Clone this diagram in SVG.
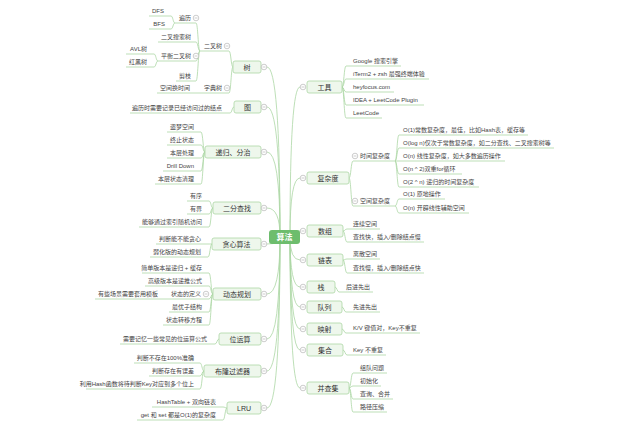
<svg xmlns="http://www.w3.org/2000/svg" width="626" height="439" viewBox="0 0 626 439">
<style>
.l{fill:none;stroke:#acd7a5;stroke-width:0.8}
.u{stroke:#acd7a5;stroke-width:0.8}
.b{fill:#eef7ec;stroke:#acd7a5;stroke-width:0.8}
text{font-family:'Liberation Sans','Noto Sans CJK SC',sans-serif;fill:#444}
.s{font-size:6px}
.e{text-anchor:end}
.m{font-size:7px;text-anchor:middle;fill:#333}
.r{font-size:8px;text-anchor:middle;fill:#fff;font-weight:bold}
</style>
<defs>
<g id="cb"><circle r="2.8" fill="#fff" stroke="#9a9a9a" stroke-width="0.5"/><path d="M-1.5 0H1.5" stroke="#9a9a9a" stroke-width="0.5"/></g>
</defs>
<rect width="626" height="439" fill="#fff"/>
<g id="connectors">
<path class="l" d="M280 237Q280 67 267 67M280 237Q280 107 267 107M280 237Q280 152 267 152M280 237Q280 208 267 208M280 237Q280 244 267 244M280 237Q280 294 267 294M280 237Q280 339 267 339M280 237Q280 371 267 371M280 237Q280 408 267 408"/>
<path class="l" d="M290 237Q290 87 300 87M290 237Q290 178 300 178M290 237Q290 231 300 231M290 237Q290 260 300 260M290 237Q290 287 300 287M290 237Q290 307 300 307M290 237Q290 329 300 329M290 237Q290 350 300 350M290 237Q290 388 300 388"/>
<path class="l" d="M233 67C231 67 231 51 229 51M233 67C231 67 231 93 229 93"/>
<path class="l" d="M200 51C198 51 198 23 196 23M200 51C198 51 198 42 196 42M200 51C198 51 198 61 196 61M200 51C198 51 198 81 196 81"/>
<path class="l" d="M175 23C173 23 173 16 171 16M175 23C173 23 173 29 171 29"/>
<path class="l" d="M158 61C156 61 156 54 154 54M158 61C156 61 156 67 154 67"/>
<path class="l" d="M200 93H196"/>
<path class="l" d="M234 107C232 107 232 113 230 113"/>
<path class="l" d="M205 152C203 152 203 132 201 132M205 152C203 152 203 145 201 145M205 152C203 152 203 158 201 158M205 152C203 152 203 171 201 171M205 152C203 152 203 184 201 184"/>
<path class="l" d="M213 208C211 208 211 201 209 201M213 208C211 208 211 214 209 214M213 208C211 208 211 227 209 227"/>
<path class="l" d="M212 244C210 244 210 244 208 244M212 244C210 244 210 257 208 257"/>
<path class="l" d="M213 294C211 294 211 273 209 273M213 294C211 294 211 286 209 286M213 294C211 294 211 299 209 299M213 294C211 294 211 312 209 312M213 294C211 294 211 325 209 325"/>
<path class="l" d="M169 299H165"/>
<path class="l" d="M219 339C217 339 217 344 215 344"/>
<path class="l" d="M204 371C202 371 202 363 200 363M204 371C202 371 202 376 200 376M204 371C202 371 202 389 200 389"/>
<path class="l" d="M227 408C225 408 225 407 223 407M227 408C225 408 225 420 223 420"/>
<path class="l" d="M342 87C344 87 344 66 346 66M342 87C344 87 344 79 346 79M342 87C344 87 344 92 346 92M342 87C344 87 344 105 346 105M342 87C344 87 344 118 346 118"/>
<path class="l" d="M349 178C351 178 351 161 353 161M349 178C351 178 351 206 353 206"/>
<path class="l" d="M395 161C397 161 397 135 399 135M395 161C397 161 397 148 399 148M395 161H399M395 161C397 161 397 174 399 174M395 161C397 161 397 187 399 187"/>
<path class="l" d="M395 206C397 206 397 199 399 199M395 206C397 206 397 213 399 213"/>
<path class="l" d="M343 231C345 231 345 229 347 229M343 231C345 231 345 242 347 242"/>
<path class="l" d="M343 260C345 260 345 259 347 259M343 260C345 260 345 273 347 273"/>
<path class="l" d="M335 287C337 287 337 292 339 292"/>
<path class="l" d="M342 307C344 307 344 312 346 312"/>
<path class="l" d="M342 329C344 329 344 333 346 333"/>
<path class="l" d="M343 350C345 350 345 355 347 355"/>
<path class="l" d="M349 388C351 388 351 373 353 373M349 388C351 388 351 386 353 386M349 388C351 388 351 399 353 399M349 388C351 388 351 412 353 412"/>
</g>
<g id="n-root"><rect x="269" y="230" width="31" height="14" rx="3" fill="#6dbd6d"/><text class="r" x="284.5" y="240">算法</text></g>
<g id="n-shu"><rect class="b" x="233" y="61" width="28" height="12" rx="2"/><text class="m" x="247" y="69.5">树</text><use href="#cb" x="264" y="67"/></g>
<g id="n-tu"><rect class="b" x="234" y="101" width="27" height="12" rx="2"/><text class="m" x="247.5" y="109.5">图</text><use href="#cb" x="264" y="107"/></g>
<g id="n-digui"><rect class="b" x="205" y="146" width="56" height="12" rx="2"/><text class="m" x="233" y="154.5">递归、分治</text><use href="#cb" x="264" y="152"/></g>
<g id="n-erfen"><rect class="b" x="213" y="202" width="48" height="12" rx="2"/><text class="m" x="237" y="210.5">二分查找</text><use href="#cb" x="264" y="208"/></g>
<g id="n-tanxin"><rect class="b" x="212" y="238" width="49" height="12" rx="2"/><text class="m" x="236.5" y="246.5">贪心算法</text><use href="#cb" x="264" y="244"/></g>
<g id="n-dp"><rect class="b" x="213" y="288" width="48" height="12" rx="2"/><text class="m" x="237" y="296.5">动态规划</text><use href="#cb" x="264" y="294"/></g>
<g id="n-wei"><rect class="b" x="219" y="333" width="42" height="12" rx="2"/><text class="m" x="240" y="341.5">位运算</text><use href="#cb" x="264" y="339"/></g>
<g id="n-bloom"><rect class="b" x="204" y="365" width="57" height="12" rx="2"/><text class="m" x="232.5" y="373.5">布隆过滤器</text><use href="#cb" x="264" y="371"/></g>
<g id="n-lru"><rect class="b" x="227" y="402" width="34" height="12" rx="2"/><text class="m" x="244" y="410.5">LRU</text><use href="#cb" x="264" y="408"/></g>
<g id="n-tools"><rect class="b" x="307" y="81" width="35" height="12" rx="2"/><text class="m" x="324.5" y="89.5">工具</text><use href="#cb" x="303" y="87"/></g>
<g id="n-fuza"><rect class="b" x="307" y="172" width="42" height="12" rx="2"/><text class="m" x="328" y="180.5">复杂度</text><use href="#cb" x="303" y="178"/></g>
<g id="n-shuzu"><rect class="b" x="307" y="225" width="36" height="12" rx="2"/><text class="m" x="325" y="233.5">数组</text><use href="#cb" x="303" y="231"/></g>
<g id="n-lianbiao"><rect class="b" x="307" y="254" width="36" height="12" rx="2"/><text class="m" x="325" y="262.5">链表</text><use href="#cb" x="303" y="260"/></g>
<g id="n-zhan"><rect class="b" x="307" y="281" width="28" height="12" rx="2"/><text class="m" x="321" y="289.5">栈</text><use href="#cb" x="303" y="287"/></g>
<g id="n-duilie"><rect class="b" x="307" y="301" width="35" height="12" rx="2"/><text class="m" x="324.5" y="309.5">队列</text><use href="#cb" x="303" y="307"/></g>
<g id="n-yingshe"><rect class="b" x="307" y="323" width="35" height="12" rx="2"/><text class="m" x="324.5" y="331.5">映射</text><use href="#cb" x="303" y="329"/></g>
<g id="n-jihe"><rect class="b" x="307" y="344" width="36" height="12" rx="2"/><text class="m" x="325" y="352.5">集合</text><use href="#cb" x="303" y="350"/></g>
<g id="n-bingcha"><rect class="b" x="307" y="382" width="42" height="12" rx="2"/><text class="m" x="328" y="390.5">并查集</text><use href="#cb" x="303" y="388"/></g>
<g id="n-ercha"><path class="u" d="M200 51H229"/><text class="s e" x="222" y="48">二叉树</text><use href="#cb" x="227" y="46"/></g>
<g id="n-zidian"><path class="u" d="M200 93H229"/><text class="s e" x="222" y="90">字典树</text><use href="#cb" x="227" y="88"/></g>
<g id="n-bianli"><path class="u" d="M175 23H196"/><text class="s e" x="191" y="20">遍历</text><use href="#cb" x="196" y="18"/></g>
<g id="n-bst"><path class="u" d="M158 42H196"/><text class="s e" x="191" y="39">二叉搜索树</text></g>
<g id="n-pingheng"><path class="u" d="M158 61H196"/><text class="s e" x="191" y="58">平衡二叉树</text><use href="#cb" x="196" y="56"/></g>
<g id="n-jianzhi"><path class="u" d="M176 81H196"/><text class="s e" x="191" y="78">剪枝</text></g>
<g id="n-dfs"><path class="u" d="M149 16H171"/><text class="s e" x="164" y="13">DFS</text></g>
<g id="n-bfs"><path class="u" d="M149 29H171"/><text class="s e" x="165" y="26">BFS</text></g>
<g id="n-avl"><path class="u" d="M126 54H154"/><text class="s e" x="147" y="51">AVL树</text></g>
<g id="n-hongbai"><path class="u" d="M126 67H154"/><text class="s e" x="147" y="64">红黑树</text></g>
<g id="n-kongjian"><path class="u" d="M157 93H196"/><text class="s e" x="190" y="90">空间换时间</text></g>
<g id="n-tu1"><path class="u" d="M130 113H230"/><text class="s e" x="222" y="110">遍历时需要记录已经访问过的结点</text></g>
<g id="n-dg1"><path class="u" d="M167 132H201"/><text class="s e" x="194" y="129">盗梦空间</text></g>
<g id="n-dg2"><path class="u" d="M167 145H201"/><text class="s e" x="194" y="142">终止状态</text></g>
<g id="n-dg3"><path class="u" d="M167 158H201"/><text class="s e" x="194" y="155">本层处理</text></g>
<g id="n-dg4"><path class="u" d="M163 171H201"/><text class="s e" x="194" y="168">Drill Down</text></g>
<g id="n-dg5"><path class="u" d="M155 184H201"/><text class="s e" x="194" y="181">本层状态清理</text></g>
<g id="n-ef1"><path class="u" d="M187 201H209"/><text class="s e" x="202" y="198">有序</text></g>
<g id="n-ef2"><path class="u" d="M187 214H209"/><text class="s e" x="202" y="211">有界</text></g>
<g id="n-ef3"><path class="u" d="M139 227H209"/><text class="s e" x="202" y="224">能够通过索引随机访问</text></g>
<g id="n-tx1"><path class="u" d="M156 244H208"/><text class="s e" x="201" y="241">判断能不能贪心</text></g>
<g id="n-tx2"><path class="u" d="M150 257H208"/><text class="s e" x="201" y="254">弱化版的动态规划</text></g>
<g id="n-dp1"><path class="u" d="M142 273H209"/><text class="s e" x="202" y="270">简单版本是递归 + 缓存</text></g>
<g id="n-dp2"><path class="u" d="M145 286H209"/><text class="s e" x="202" y="283">高级版本是递推公式</text></g>
<g id="n-dp3"><path class="u" d="M169 299H209"/><text class="s e" x="201" y="296">状态的定义</text><use href="#cb" x="206" y="294"/></g>
<g id="n-dp3a"><path class="u" d="M95 299H165"/><text class="s e" x="158" y="296">有些场景需要套用模板</text></g>
<g id="n-dp4"><path class="u" d="M169 312H209"/><text class="s e" x="202" y="309">最优子结构</text></g>
<g id="n-dp5"><path class="u" d="M163 325H209"/><text class="s e" x="202" y="322">状态转移方程</text></g>
<g id="n-wei1"><path class="u" d="M120 344H215"/><text class="s e" x="207" y="341">需要记忆一些常见的位运算公式</text></g>
<g id="n-bl1"><path class="u" d="M134 363H200"/><text class="s e" x="194" y="360">判断不存在100%准确</text></g>
<g id="n-bl2"><path class="u" d="M149 376H200"/><text class="s e" x="194" y="373">判断存在有误差</text></g>
<g id="n-bl3"><path class="u" d="M86 389H200"/><text class="s e" x="194" y="386">利用Hash函数将待判断Key对应到多个位上</text></g>
<g id="n-lru1"><path class="u" d="M152 407H223"/><text class="s e" x="216" y="404">HashTable + 双向链表</text></g>
<g id="n-lru2"><path class="u" d="M137 420H223"/><text class="s e" x="216" y="417">get 和 set 都是O(1)的复杂度</text></g>
<g id="n-gj1"><path class="u" d="M346 66H401"/><text class="s" x="353" y="63">Google 搜索引擎</text></g>
<g id="n-gj2"><path class="u" d="M346 79H429"/><text class="s" x="353" y="76">iTerm2 + zsh 最强终端体验</text></g>
<g id="n-gj3"><path class="u" d="M346 92H394"/><text class="s" x="353" y="89">heyfocus.com</text></g>
<g id="n-gj4"><path class="u" d="M346 105H424"/><text class="s" x="353" y="102">IDEA + LeetCode Plugin</text></g>
<g id="n-gj5"><path class="u" d="M346 118H382"/><text class="s" x="353" y="115">LeetCode</text></g>
<g id="n-time"><path class="u" d="M353 161H395"/><text class="s" x="360" y="158">时间复杂度</text><use href="#cb" x="355" y="156"/></g>
<g id="n-space"><path class="u" d="M353 206H395"/><text class="s" x="360" y="203">空间复杂度</text><use href="#cb" x="355" y="201"/></g>
<g id="n-t1"><path class="u" d="M399 135H528"/><text class="s" x="403" y="132">O(1)常数复杂度，最佳，比如Hash表，缓存等</text></g>
<g id="n-t2"><path class="u" d="M399 148H554"/><text class="s" x="403" y="145">O(log n)仅次于常数复杂度，如二分查找、二叉搜索树等</text></g>
<g id="n-t3"><path class="u" d="M399 161H505"/><text class="s" x="403" y="158">O(n) 线性复杂度，如大多数遍历操作</text></g>
<g id="n-t4"><path class="u" d="M399 174H462"/><text class="s" x="403" y="171">O(n ^ 2)双重for循环</text></g>
<g id="n-t5"><path class="u" d="M399 187H479"/><text class="s" x="403" y="184">O(2 ^ n) 递归的时间复杂度</text></g>
<g id="n-s1"><path class="u" d="M399 199H445"/><text class="s" x="403" y="196">O(1) 原地操作</text></g>
<g id="n-s2"><path class="u" d="M399 213H469"/><text class="s" x="403" y="210">O(n) 开辟线性辅助空间</text></g>
<g id="n-sz1"><path class="u" d="M347 229H380"/><text class="s" x="353" y="226">连续空间</text></g>
<g id="n-sz2"><path class="u" d="M347 242H424"/><text class="s" x="353" y="239">查找快，插入/删除结点慢</text></g>
<g id="n-lb1"><path class="u" d="M347 259H380"/><text class="s" x="353" y="256">离散空间</text></g>
<g id="n-lb2"><path class="u" d="M347 273H424"/><text class="s" x="353" y="270">查找慢，插入/删除结点快</text></g>
<g id="n-zh1"><path class="u" d="M339 292H373"/><text class="s" x="346" y="289">后进先出</text></g>
<g id="n-dl1"><path class="u" d="M346 312H380"/><text class="s" x="353" y="309">先进先出</text></g>
<g id="n-ys1"><path class="u" d="M346 333H420"/><text class="s" x="353" y="330">K/V 键值对，Key不重复</text></g>
<g id="n-jh1"><path class="u" d="M347 355H386"/><text class="s" x="353" y="352">Key 不重复</text></g>
<g id="n-bc1"><path class="u" d="M353 373H387"/><text class="s" x="360" y="370">组队问题</text></g>
<g id="n-bc2"><path class="u" d="M353 386H381"/><text class="s" x="360" y="383">初始化</text></g>
<g id="n-bc3"><path class="u" d="M353 399H393"/><text class="s" x="360" y="396">查询、合并</text></g>
<g id="n-bc4"><path class="u" d="M353 412H387"/><text class="s" x="360" y="409">路径压缩</text></g>
</svg>
